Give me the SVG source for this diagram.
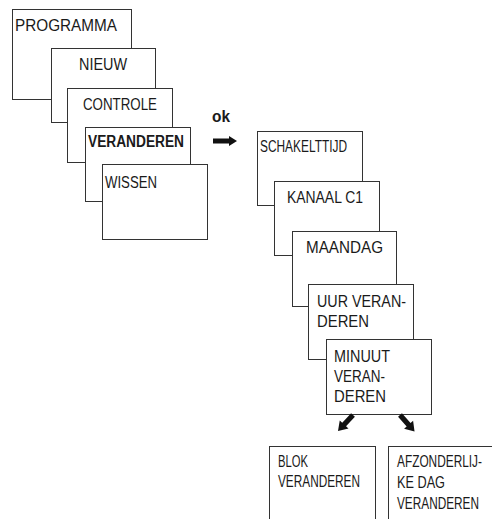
<svg xmlns="http://www.w3.org/2000/svg" width="492" height="519" viewBox="0 0 492 519">
<style>
.box{fill:#fff;stroke:#333;stroke-width:1}
.t{font-family:"Liberation Sans",Arial,sans-serif;font-size:16px;fill:#1a1a1a}
.b{font-weight:bold}
.arr{fill:#111}
</style>
<defs>
<path id="darr" d="M0,-2.6 L13,-2.6 L13,-6 L22,0 L13,6 L13,2.6 L0,2.6 Z"/>
</defs>
<rect width="492" height="519" fill="#fff"/>
<g id="n-programma"><rect class="box" x="12.5" y="9.5" width="119" height="90"/><text class="t" x="15" y="31" textLength="102" lengthAdjust="spacingAndGlyphs">PROGRAMMA</text></g>
<g id="n-nieuw"><rect class="box" x="51.5" y="48.5" width="104" height="74"/><text class="t" x="79" y="70" textLength="48" lengthAdjust="spacingAndGlyphs">NIEUW</text></g>
<g id="n-controle"><rect class="box" x="67.5" y="88.5" width="105" height="74"/><text class="t" x="83" y="110" textLength="74" lengthAdjust="spacingAndGlyphs">CONTROLE</text></g>
<g id="n-veranderen"><rect class="box" x="85.5" y="127.5" width="105" height="74"/><text class="t b" x="88" y="147" textLength="96" lengthAdjust="spacingAndGlyphs">VERANDEREN</text></g>
<g id="n-wissen"><rect class="box" x="102.5" y="164.5" width="105" height="75"/><text class="t" x="105" y="188" textLength="52" lengthAdjust="spacingAndGlyphs">WISSEN</text></g>
<g id="n-ok"><text class="t b" x="212" y="122" textLength="18" lengthAdjust="spacingAndGlyphs">ok</text></g>
<g id="n-schakeltijd"><rect class="box" x="257.5" y="131.5" width="105" height="74"/><text class="t" x="260" y="152" textLength="87" lengthAdjust="spacingAndGlyphs">SCHAKELTTIJD</text></g>
<g id="n-kanaal"><rect class="box" x="274.5" y="181.5" width="105" height="74"/><text class="t" x="287" y="203" textLength="76" lengthAdjust="spacingAndGlyphs">KANAAL C1</text></g>
<g id="n-maandag"><rect class="box" x="292.5" y="231.5" width="104" height="75"/><text class="t" x="306" y="253" textLength="77" lengthAdjust="spacingAndGlyphs">MAANDAG</text></g>
<g id="n-uur"><rect class="box" x="308.5" y="284.5" width="105" height="75"/><text class="t" x="317" y="307" textLength="89" lengthAdjust="spacingAndGlyphs">UUR VERAN-</text><text class="t" x="317" y="327" textLength="52" lengthAdjust="spacingAndGlyphs">DEREN</text></g>
<g id="n-minuut"><rect class="box" x="326.5" y="339.5" width="105" height="75"/><text class="t" x="334" y="362" textLength="56" lengthAdjust="spacingAndGlyphs">MINUUT</text><text class="t" x="334" y="382" textLength="51" lengthAdjust="spacingAndGlyphs">VERAN-</text><text class="t" x="334" y="402" textLength="52" lengthAdjust="spacingAndGlyphs">DEREN</text></g>
<g id="n-blok"><rect class="box" x="269.5" y="446.5" width="106" height="80"/><text class="t" x="278" y="467" textLength="30" lengthAdjust="spacingAndGlyphs">BLOK</text><text class="t" x="278" y="487" textLength="82" lengthAdjust="spacingAndGlyphs">VERANDEREN</text></g>
<g id="n-afzonderlijk"><rect class="box" x="388.5" y="446.5" width="110" height="80"/><text class="t" x="397" y="467" textLength="85" lengthAdjust="spacingAndGlyphs">AFZONDERLIJ-</text><text class="t" x="397" y="488" textLength="48" lengthAdjust="spacingAndGlyphs">KE DAG</text><text class="t" x="397" y="509" textLength="82" lengthAdjust="spacingAndGlyphs">VERANDEREN</text></g>
<g id="connectors">
<path class="arr" d="M213,138.5 L229,138.5 L229,136 L237,141 L229,146 L229,143.5 L213,143.5 Z"/>
<use class="arr" href="#darr" transform="translate(353,415) rotate(133)"/>
<use class="arr" href="#darr" transform="translate(400,415) rotate(48.6)"/>
</g>
</svg>
